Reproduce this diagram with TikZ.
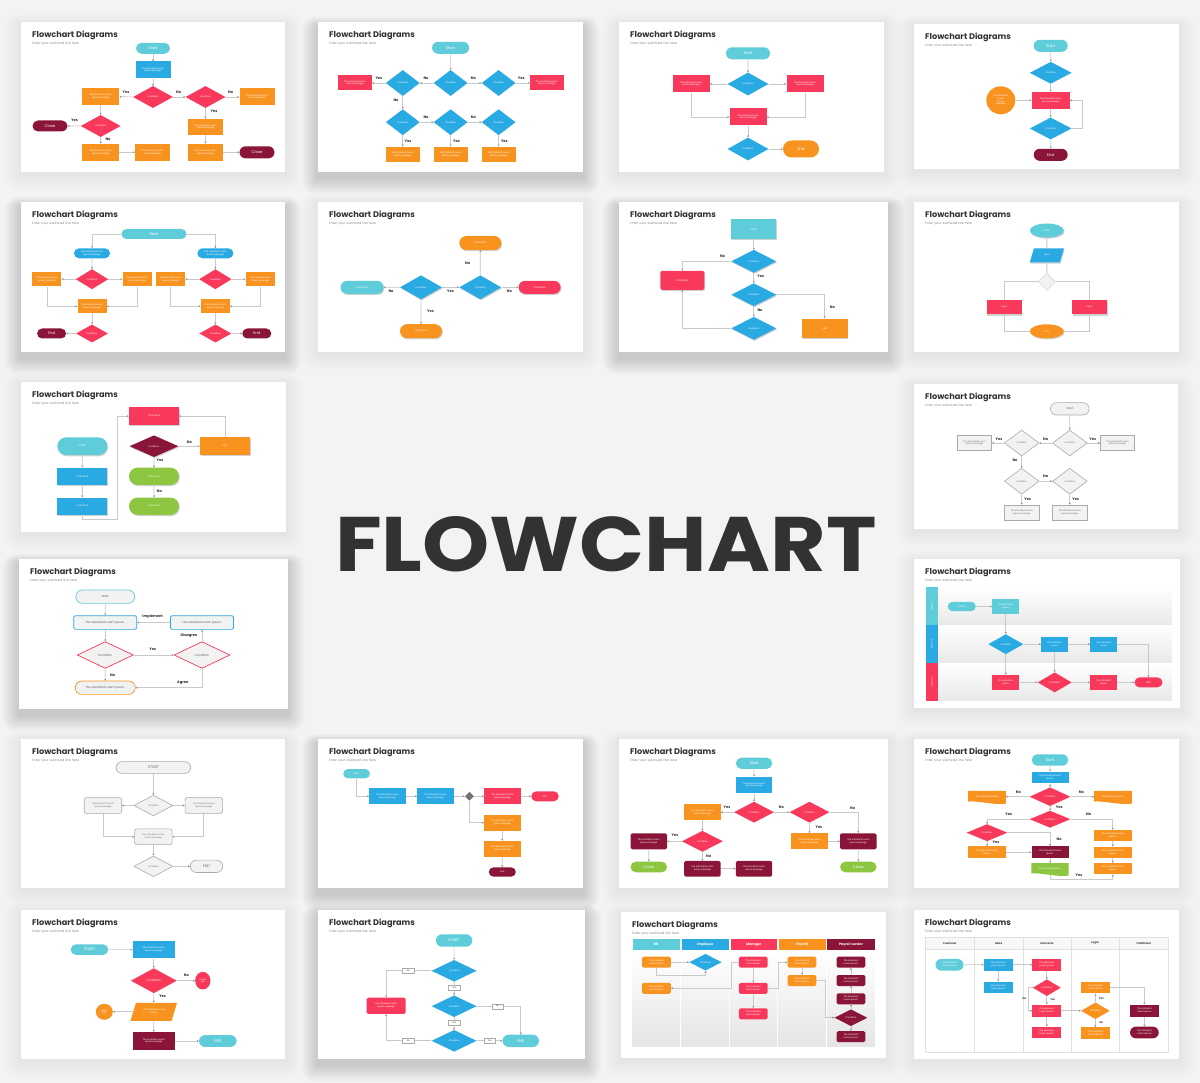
\documentclass[tikz,border=0pt]{standalone}
\usepackage{fontspec}
\setmainfont{Poppins}
\usetikzlibrary{shapes.geometric,shapes.misc,arrows.meta,calc,shadows}
\definecolor{bgc}{HTML}{F3F3F3}
\definecolor{cya}{HTML}{5FCDD9}
\definecolor{blu}{HTML}{2AAAE2}
\definecolor{rdd}{HTML}{F9395B}
\definecolor{ora}{HTML}{F8931F}
\definecolor{mar}{HTML}{8A1538}
\definecolor{grn}{HTML}{8DC641}
\definecolor{lineg}{HTML}{C9C9C9}
\definecolor{txt}{HTML}{333132}
\definecolor{outg}{HTML}{AAAAAA}
\definecolor{fillg}{HTML}{F2F2F2}
\newcommand\fnt{\fontsize{2.2}{2.7}\selectfont}
\newcommand\fst{\fontsize{3.8}{4.2}\selectfont}
\newcommand\fmd{\fontsize{2.9}{3.3}\selectfont}
\newcommand\LorP{The standard Lorem\\Ipsum passage}
\newcommand\LorQ{The standard\\Lorem Ipsum.}
\tikzset{
 ttl/.style={anchor=base west,inner sep=0pt,text=txt,font=\fontsize{8.2}{9}\selectfont\bfseries},
 subt/.style={anchor=base west,inner sep=0pt,text=black!45,font=\fontsize{3.3}{4}\selectfont},
 rect/.style={fill=#1,inner sep=0pt,text=white,font=\fnt,align=center},
 rbox/.style={rect=#1,rounded corners=1.5pt},
 pill/.style={rect=#1,shape=rounded rectangle},
 dia/.style={rect=#1,shape=diamond},
 ell/.style={rect=#1,shape=ellipse},
 wh/.style 2 args={minimum width=#1pt,minimum height=#2pt},
 ln/.style={draw=lineg,line width=0.7pt,-{Stealth[length=2pt,width=2pt,color=black!45]}},
 nl/.style={draw=lineg,line width=0.9pt},
 lbl/.style={font=\fontsize{3.6}{4}\selectfont\bfseries,text=txt,inner sep=0.3pt},
 oline/.style={draw=#1,fill=fillg,line width=0.7pt,inner sep=0pt,text=txt!80,font=\fmd,align=center},
 gbox/.style={draw=outg,fill=fillg,line width=0.6pt,inner sep=0pt,text=txt!70,font=\fnt,align=center},
 tag/.style={draw=outg,fill=white,font=\fnt,text=txt,inner sep=0pt,minimum width=11.5pt,minimum height=5pt,line width=0.4pt},
 hdr/.style={fill=#1,text=white,font=\fontsize{3.2}{3.5}\selectfont\bfseries,inner sep=0pt,minimum height=11pt},
 sh/.style={drop shadow={shadow xshift=0.8pt,shadow yshift=-1.2pt,opacity=0.18,fill=black}},
 txw/.style={inner sep=0pt,text=white,font=\fnt,align=center}
}
\newcommand\slidebox[5]{%
 \pgfmathsetmacro\shop{0.0035*#5}%
 \foreach \i in {1,...,14}{\fill[black,opacity=\shop,rounded corners=\i pt] ({#1-\i*1.2},{#2-\i*0.7+1.5*#5}) rectangle ({#3+\i*1.2},{#4+\i*1.2+2*#5});}%
 \fill[white] (#1,#2) rectangle (#3,#4);
 \node[ttl] at ({#1+11},{#2+15.5}) {Flowchart Diagrams};
 \node[subt] at ({#1+11},{#2+22.5}) {Enter your subhead line here};
}
\newcommand\docfill[2]{\fill[#2] (#1.north west) -- (#1.north east) -- ([yshift=-1pt]#1.south east) .. controls ([xshift=-10pt,yshift=-3pt]#1.south east) and ([xshift=10pt,yshift=2pt]#1.south west) .. ([yshift=1pt]#1.south west) -- cycle;}
\begin{document}
\begin{tikzpicture}[x=1pt,y=-1pt]
\useasboundingbox (0,0) rectangle (1200,1083);
\fill[bgc] (0,0) rectangle (1200,1083);

% ---------- slide 1
\slidebox{21}{22}{285}{172}{1}
\node[pill=cya,wh={34}{11},font=\fst] (a1) at (153,48.3) {Start};
\node[rect=blu,wh={35}{17}] (a2) at (153,70) {\LorP};
\node[dia=rdd,wh={40}{22}] (a3) at (153,97) {Condition};
\node[dia=rdd,wh={40}{22}] (a4) at (205.5,97) {Condition};
\node[rect=ora,wh={37}{17}] (a5) at (100.7,96.7) {\LorP};
\node[rect=ora,wh={35}{17}] (a6) at (257,97) {\LorP};
\node[dia=rdd,wh={40}{22}] (a7) at (100.7,126) {Condition};
\node[pill=mar,wh={35}{11},font=\fst] (a8) at (50,126) {Close};
\node[rect=ora,wh={35}{16}] (a9) at (205.5,127) {\LorP};
\node[rect=ora,wh={37}{17}] (a10) at (100.7,152.3) {\LorP};
\node[rect=ora,wh={35}{17}] (a11) at (152.5,152.3) {\LorP};
\node[rect=ora,wh={35}{17}] (a12) at (205.5,152.3) {\LorP};
\node[pill=mar,wh={35}{12},font=\fst] (a13) at (257,152.3) {Close};
\draw[ln] (a1)--(a2); \draw[ln] (a2)--(a3); \draw[ln] (a3)--(a5); \draw[ln] (a3)--(a4);
\draw[ln] (a4)--(a6); \draw[ln] (a5)--(a7); \draw[ln] (a7)--(a8); \draw[ln] (a7)--(a10);
\draw[ln] (a10)--(a11); \draw[ln] (a4)--(a9); \draw[ln] (a9)--(a12); \draw[ln] (a12)--(a13);
\node[lbl] at (126,92.3) {Yes}; \node[lbl] at (178.7,92) {No}; \node[lbl] at (230.7,92) {No};
\node[lbl] at (74.6,120) {Yes}; \node[lbl] at (214,111.7) {Yes}; \node[lbl] at (108,139.7) {No};

% ---------- slide 2
\slidebox{318}{22}{583}{172}{3}
\node[pill=cya,wh={37}{12},font=\fst] (b1) at (450.6,47.8) {Start};
\node[dia=blu,wh={34}{26}] (b2) at (402.8,83) {Condition};
\node[dia=blu,wh={34}{26}] (b3) at (450.6,83) {Condition};
\node[dia=blu,wh={34}{26}] (b4) at (498.6,83) {Condition};
\node[rect=rdd,wh={34}{15}] (b5) at (355,83) {\LorP};
\node[rect=rdd,wh={34}{15}] (b6) at (546.8,83) {\LorP};
\node[dia=blu,wh={34}{26}] (b7) at (402.8,122.2) {Condition};
\node[dia=blu,wh={34}{26}] (b8) at (450.6,122.2) {Condition};
\node[dia=blu,wh={34}{26}] (b9) at (498.6,122.2) {Condition};
\node[rect=ora,wh={34}{15}] (b10) at (402.8,154.2) {\LorP};
\node[rect=ora,wh={34}{15}] (b11) at (450.6,154.2) {\LorP};
\node[rect=ora,wh={34}{15}] (b12) at (498.6,154.2) {\LorP};
\draw[ln] (b1)--(b3); \draw[ln] (b3)--(b2); \draw[ln] (b3)--(b4); \draw[ln] (b2)--(b5);
\draw[ln] (b4)--(b6); \draw[ln] (b2)--(b7); \draw[ln] (b7)--(b8); \draw[ln] (b8)--(b9);
\draw[ln] (b7)--(b10); \draw[ln] (b8)--(b11); \draw[ln] (b9)--(b12);
\node[lbl] at (378.9,78.3) {Yes}; \node[lbl] at (426,78.3) {No}; \node[lbl] at (473.4,78.3) {No};
\node[lbl] at (521.3,78.3) {Yes}; \node[lbl] at (396,100.7) {No}; \node[lbl] at (426,117.7) {No};
\node[lbl] at (473.4,117.7) {No}; \node[lbl] at (408,141) {Yes}; \node[lbl] at (456.5,141) {Yes};
\node[lbl] at (504.4,141) {Yes};

% ---------- slide 3
\slidebox{619}{22}{884}{172}{1}
\node[pill=cya,wh={44}{12},font=\fst] (c1) at (748,53.3) {Start};
\node[dia=blu,wh={41}{23}] (c2) at (748,84) {Condition};
\node[rect=rdd,wh={37}{17}] (c3) at (691.2,84) {\LorP};
\node[rect=rdd,wh={37}{17}] (c4) at (805,84) {\LorP};
\node[rect=rdd,wh={37}{17}] (c5) at (748,117) {\LorP};
\node[dia=blu,wh={41}{23}] (c6) at (748,149) {Condition};
\node[pill=ora,wh={36}{17},font=\fst] (c7) at (801,149) {End};
\draw[ln] (c1)--(c2); \draw[ln] (c2)--(c3); \draw[ln] (c2)--(c4);
\draw[ln] (c3.south) |- (c5.west); \draw[ln] (c4.south) |- (c5.east);
\draw[ln] (c5)--(c6); \draw[ln] (c6)--(c7);

% ---------- slide 4
\slidebox{914}{24}{1179}{169}{1}
\node[pill=cya,wh={34}{12},font=\fst] (d1) at (1050.7,45.8) {Start};
\node[dia=blu,wh={42}{22}] (d2) at (1050.7,72.8) {Condition};
\node[rect=rdd,wh={38}{17}] (d3) at (1050.7,100.3) {\LorP};
\node[ell=ora,wh={29}{28}] (d4) at (1000.8,100.3) {The standard\\Lorem\\Ipsum\\passage};
\node[dia=blu,wh={42}{22}] (d5) at (1050.7,128.5) {Condition};
\node[pill=mar,wh={34}{12},font=\fst] (d6) at (1050.7,154.8) {End};
\draw[ln] (d1)--(d2); \draw[ln] (d2)--(d3); \draw[ln] (d4)--(d3); \draw[ln] (d3)--(d5);
\draw[ln] (d5.east) -- ++(10,0) |- (d3.east); \draw[ln] (d5)--(d6);

% ---------- slide 5
\slidebox{21}{202}{285}{352}{3}
\node[pill=cya,wh={65}{10},font=\fst] (e1) at (154,234) {Start};
\node[pill=blu,wh={36}{10}] (e2) at (92,253.3) {\LorP};
\node[pill=blu,wh={36}{10}] (e3) at (215.4,253.3) {\LorP};
\node[dia=rdd,wh={32.5}{20}] (e4) at (92,279.2) {Condition};
\node[dia=rdd,wh={32.5}{20}] (e5) at (215.4,279.2) {Condition};
\node[rect=ora,wh={29}{14.5}] (e6) at (46.9,279.2) {\LorP};
\node[rect=ora,wh={29}{14.5}] (e7) at (137,279.2) {\LorP};
\node[rect=ora,wh={29}{14.5}] (e8) at (170.7,279.2) {\LorP};
\node[rect=ora,wh={29}{14.5}] (e9) at (260.2,279.2) {\LorP};
\node[rect=ora,wh={29}{14}] (e10) at (92,306.3) {\LorP};
\node[rect=ora,wh={29}{14}] (e11) at (215.4,306.3) {\LorP};
\node[dia=rdd,wh={32}{18}] (e12) at (92,333.5) {Condition};
\node[dia=rdd,wh={32}{18}] (e13) at (215.4,333.5) {Condition};
\node[pill=mar,wh={29}{10},font=\fst] (e14) at (51.6,333.5) {End};
\node[pill=mar,wh={29}{10},font=\fst] (e15) at (256.8,333.5) {End};
\draw[ln] (e1.west) -| (e2.north); \draw[ln] (e1.east) -| (e3.north);
\draw[ln] (e2)--(e4); \draw[ln] (e3)--(e5);
\draw[ln] (e4)--(e6); \draw[ln] (e4)--(e7); \draw[ln] (e5)--(e8); \draw[ln] (e5)--(e9);
\draw[ln] (e6.south) |- (e10.west); \draw[ln] (e7.south) |- (e10.east);
\draw[ln] (e8.south) |- (e11.west); \draw[ln] (e9.south) |- (e11.east);
\draw[ln] (e10)--(e12); \draw[ln] (e11)--(e13); \draw[ln] (e12)--(e14); \draw[ln] (e13)--(e15);

% ---------- slide 6
\slidebox{318}{202}{583}{352}{1}
\node[pill=ora,sh,wh={42}{14}] (f1) at (480.3,243) {YOUR DATA};
\node[pill=cya,sh,wh={43}{13}] (f2) at (362,287.3) {YOUR DATA};
\node[dia=blu,sh,wh={42}{24}] (f3) at (421,287.3) {Condition};
\node[dia=blu,sh,wh={42}{24}] (f4) at (480.3,287.3) {Condition};
\node[pill=rdd,sh,wh={42}{13}] (f5) at (539.6,287.3) {YOUR DATA};
\node[pill=ora,sh,wh={42}{14}] (f6) at (421,331.2) {YOUR DATA};
\draw[ln] (f3)--(f2); \draw[ln] (f3)--(f4); \draw[ln] (f4)--(f5); \draw[ln] (f4)--(f1); \draw[ln] (f3)--(f6);
\node[lbl] at (391,291) {No}; \node[lbl] at (450.5,291.7) {Yes}; \node[lbl] at (509.4,291) {No};
\node[lbl] at (467.7,263.3) {No}; \node[lbl] at (430.5,311.7) {Yes};

% ---------- slide 7
\slidebox{619}{202}{888}{352}{3}
\node[rect=cya,sh,wh={45}{20}] (g1) at (753.8,229.3) {START};
\node[dia=blu,sh,wh={45}{23}] (g2) at (753.8,261.3) {Condition};
\node[rbox=rdd,sh,wh={44}{19}] (g3) at (682.3,280.3) {YOUR DATA};
\node[dia=blu,sh,wh={45}{23}] (g4) at (753.8,294.7) {Condition};
\node[dia=blu,sh,wh={45}{23}] (g5) at (753.8,328.3) {Condition};
\node[rect=ora,sh,wh={45.6}{19.3}] (g6) at (824.8,328.3) {END};
\draw[ln] (g1)--(g2); \draw[ln] (g2.west) -| (g3.north); \draw[ln] (g2)--(g4); \draw[ln] (g4)--(g5);
\draw[ln] (g4.east) -| (g6.north); \draw[ln] (g5.west) -| (g3.south);
\node[lbl] at (722.5,256) {No}; \node[lbl] at (760.7,276.7) {Yes}; \node[lbl] at (760,310.7) {No};
\node[lbl] at (832.3,307.3) {No};

% ---------- slide 8
\slidebox{914}{202}{1179}{352}{1}
\node[ell=cya,sh,wh={34}{14}] (h1) at (1046.8,230.5) {Start};
\node[rect=blu,sh,wh={30}{14},xslant=0.3] (h2) at (1046.8,255.5) {Input};
\node[shape=diamond,draw=black!20,fill=fillg,inner sep=0pt,wh={17}{17}] (h3) at (1046.8,281.7) {};
\node[rect=rdd,sh,wh={35}{14}] (h4) at (1004.1,307.5) {Input};
\node[rect=rdd,sh,wh={35}{14}] (h5) at (1089.3,307.5) {Input};
\node[ell=ora,sh,wh={34}{14}] (h6) at (1046.8,331.3) {End};
\draw[nl] (h1)--(h2); \draw[nl] (h2)--(h3);
\draw[nl] (h3.west) -| (h4.north); \draw[nl] (h3.east) -| (h5.north);
\draw[nl] (h4.south) |- (h6.west); \draw[nl] (h5.south) |- (h6.east);

% ---------- slide 9
\slidebox{21}{382}{286}{532}{1}
\node[pill=cya,sh,wh={50}{17.7}] (i1) at (82.3,446.2) {START};
\node[rect=blu,sh,wh={50}{17.3}] (i2) at (82.3,476.3) {YOUR DATA};
\node[rect=blu,sh,wh={50}{17.3}] (i3) at (82.3,506.2) {YOUR DATA};
\node[rect=rdd,sh,wh={50}{17.7}] (i4) at (154,416.2) {YOUR DATA};
\node[dia=mar,sh,wh={49}{21.7}] (i5) at (154,446.2) {Condition};
\node[rect=ora,sh,wh={50}{17.7}] (i6) at (225,446.2) {END};
\node[pill=grn,sh,wh={50}{17.3}] (i7) at (154,476.3) {YOUR DATA};
\node[pill=grn,sh,wh={50}{17.3}] (i8) at (154,506.2) {YOUR DATA};
\coordinate (i9) at (117.7,519.3);
\draw[ln] (i1)--(i2); \draw[ln] (i2)--(i3);
\draw[ln] (i3.south) |- (i9) |- (i4.west);
\draw[ln] (i6.north) |- (i4.east);
\draw[ln] (i5)--(i6); \draw[ln] (i5)--(i7); \draw[ln] (i7)--(i8);
\node[lbl] at (189.3,442.3) {No}; \node[lbl] at (160,460) {Yes}; \node[lbl] at (159.3,491) {No};

% ---------- slide 10
\slidebox{914}{384}{1178}{529}{1}
\node[gbox,shape=rounded rectangle,font=\fmd,wh={38.7}{12.3}] (j1) at (1069.8,408.8) {Start};
\node[gbox,shape=diamond,wh={34.7}{26}] (j2) at (1021.7,443) {Condition};
\node[gbox,shape=diamond,wh={34.7}{26}] (j3) at (1069.8,443) {Condition};
\node[gbox,wh={34.4}{15}] (j4) at (974.5,443) {\LorP};
\node[gbox,wh={34.4}{15}] (j5) at (1117.5,443) {\LorP};
\node[gbox,shape=diamond,wh={34.7}{26}] (j6) at (1021.7,481.2) {Condition};
\node[gbox,shape=diamond,wh={34.7}{26}] (j7) at (1069.8,481.2) {Condition};
\node[gbox,wh={34.7}{15.6}] (j8) at (1021.7,512.8) {\LorP};
\node[gbox,wh={34.7}{15.6}] (j9) at (1069.8,512.8) {\LorP};
\draw[ln] (j1)--(j3); \draw[ln] (j3)--(j2); \draw[ln] (j2)--(j4); \draw[ln] (j3)--(j5);
\draw[ln] (j2)--(j6); \draw[ln] (j6)--(j7); \draw[ln] (j6)--(j8); \draw[ln] (j7)--(j9);
\node[lbl] at (999,439) {Yes}; \node[lbl] at (1045.7,439) {No}; \node[lbl] at (1092.7,439) {Yes};
\node[lbl] at (1015,460.7) {No}; \node[lbl] at (1045.7,476.7) {No}; \node[lbl] at (1027.7,499.7) {Yes};
\node[lbl] at (1075.7,499.7) {Yes};

% ---------- slide 11
\slidebox{19}{559}{288}{709}{3}
\node[oline=cya,shape=rounded rectangle,wh={59}{13.3}] (k1) at (105.3,596.7) {Start};
\node[oline=blu,rounded corners=1.5pt,wh={63}{13.7}] (k2) at (105.3,622.5) {The standard Lorem Ipsum.};
\node[oline=blu,rounded corners=1.5pt,wh={63}{13.7}] (k3) at (202,622.5) {The standard Lorem Ipsum.};
\node[oline=rdd,shape=diamond,wh={56}{26.7}] (k4) at (105.3,655) {Condition};
\node[oline=rdd,shape=diamond,wh={56}{26.7}] (k5) at (202,655) {Condition};
\node[oline=ora,shape=rounded rectangle,wh={60}{13.3}] (k6) at (105.3,687.7) {The standard Lorem Ipsum.};
\draw[ln] (k1)--(k2); \draw[ln] (k2)--(k4); \draw[ln] (k4)--(k5); \draw[ln] (k5)--(k3);
\draw[ln] (k3)--(k2); \draw[ln] (k4)--(k6); \draw[ln] (k5.south) |- (k6.east);
\node[lbl] at (152.7,616.3) {Implement}; \node[lbl] at (189,636) {Disagree};
\node[lbl] at (152.7,649.3) {Yes}; \node[lbl] at (112.7,675) {No}; \node[lbl] at (182.7,682.3) {Agree};

% ---------- slide 12
\slidebox{914}{559}{1180}{708}{1}
\shade[top color=white,bottom color=black!9] (937.7,587.3) rectangle (1171.7,624.5);
\shade[top color=white,bottom color=black!9] (937.7,625.5) rectangle (1171.7,662.8);
\shade[top color=white,bottom color=black!9] (937.7,663.8) rectangle (1171.7,700.7);
\fill[cya] (925.7,587.3) rectangle (937.7,625);
\fill[blu] (925.7,625) rectangle (937.7,663.3);
\fill[rdd] (925.7,663.3) rectangle (937.7,700.7);
\node[rotate=90,txw] at (931.7,606.2) {DATA 01};
\node[rotate=90,txw] at (931.7,644.2) {DATA 02};
\node[rotate=90,txw] at (931.7,682) {DATA 03};
\node[pill=cya,wh={28}{9.4}] (l1) at (961.8,606.5) {START};
\node[rect=cya,wh={27}{15}] (l2) at (1005.8,606.5) {The standard\\Lorem.};
\node[dia=blu,wh={35}{20}] (l3) at (1005.8,644.2) {Condition};
\node[rect=blu,wh={27}{15}] (l4) at (1054.7,644.2) {The standard\\Lorem.};
\node[rect=blu,wh={27}{15}] (l5) at (1103.7,644.2) {The standard\\Lorem.};
\node[rect=rdd,wh={27}{15}] (l6) at (1005.8,682.4) {The standard\\Lorem.};
\node[dia=rdd,wh={34}{20}] (l7) at (1054.7,682.4) {Condition};
\node[rect=rdd,wh={27}{15}] (l8) at (1103.7,682.4) {The standard\\Lorem.};
\node[pill=rdd,wh={28}{10}] (l9) at (1148.5,682.4) {END};
\draw[ln] (l1)--(l2); \draw[ln] (l2)--(l3); \draw[ln] (l3)--(l4); \draw[ln] (l4)--(l5);
\draw[ln] (l5.east) -| (l9.north); \draw[ln] (l3)--(l6); \draw[ln] (l6)--(l7);
\draw[ln] (l4)--(l7); \draw[ln] (l7)--(l8); \draw[ln] (l8)--(l9);

% ---------- slide 13
\slidebox{21}{739}{285}{888}{1}
\node[gbox,shape=rounded rectangle,font=\fst,wh={74.6}{11.7}] (m1) at (153.4,767.5) {START};
\node[gbox,shape=diamond,wh={39}{20.7}] (m2) at (153.4,805.5) {Condition};
\node[gbox,rounded corners=2pt,wh={37.5}{15.7}] (m3) at (103,805.5) {\LorP};
\node[gbox,rounded corners=2pt,wh={37.5}{15.7}] (m4) at (203.8,805.5) {\LorP};
\node[gbox,rounded corners=2pt,wh={37.5}{15.7}] (m5) at (153.4,836.7) {\LorP};
\node[gbox,shape=diamond,wh={39}{20.7}] (m6) at (153.4,866.3) {Condition};
\node[gbox,shape=rounded rectangle,font=\fst,wh={32.5}{12.3}] (m7) at (206.5,866.3) {END};
\draw[ln] (m1)--(m2); \draw[ln] (m2)--(m3); \draw[ln] (m2)--(m4);
\draw[ln] (m3.south) |- (m5.west); \draw[ln] (m4.south) |- (m5.east);
\draw[ln] (m5)--(m6); \draw[ln] (m6)--(m7);

% ---------- slide 14
\slidebox{318}{739}{583}{888}{3}
\node[pill=cya,wh={26.7}{9.3}] (n1) at (356.6,773.7) {Start};
\node[rect=blu,wh={36.4}{16}] (n2) at (387.5,796.3) {\LorP};
\node[rect=blu,wh={36.4}{16}] (n3) at (435.3,796.3) {\LorP};
\node[shape=diamond,fill=black!55,inner sep=0pt,wh={9}{9}] (n4) at (469.4,796.3) {};
\node[rect=rdd,wh={36.4}{16}] (n5) at (502.3,796.3) {\LorP};
\node[pill=rdd,wh={27.5}{10}] (n6) at (545,796.3) {End};
\node[rect=ora,wh={36.4}{15.7}] (n7) at (502.3,822.8) {\LorP};
\node[rect=ora,wh={36.4}{15.7}] (n8) at (502.3,848.8) {\LorP};
\node[pill=mar,wh={27}{9.3}] (n9) at (502.3,872) {End};
\draw[ln] (n1.south) |- (n2.west); \draw[ln] (n2)--(n3); \draw[ln] (n3)--(n4); \draw[ln] (n4)--(n5);
\draw[ln] (n5)--(n6); \draw[ln] (n4.south) |- (n7.west); \draw[ln] (n7)--(n8); \draw[ln] (n8)--(n9);

% ---------- slide 15
\slidebox{619}{739}{888}{888}{1}
\node[pill=cya,wh={36.4}{11.3},font=\fst] (o1) at (754,763.3) {Start};
\node[rect=blu,wh={36.4}{16.7}] (o2) at (754,785) {\LorP};
\node[dia=rdd,wh={40}{21}] (o3) at (754,812.2) {Condition};
\node[dia=rdd,wh={40}{21}] (o4) at (809.5,812.2) {Condition};
\node[rect=ora,wh={36.4}{16}] (o5) at (702.4,812.2) {\LorP};
\node[dia=rdd,wh={41}{21}] (o6) at (702.4,841.3) {Condition};
\node[rect=ora,wh={36.4}{16}] (o7) at (809.5,841.3) {\LorP};
\node[rbox=mar,wh={36.4}{16}] (o8) at (648.8,841.3) {\LorP};
\node[rbox=mar,wh={36.4}{16}] (o9) at (858.3,841.3) {\LorP};
\node[pill=grn,wh={36.4}{10.7},font=\fst] (o10) at (648.8,867) {Close};
\node[rbox=mar,wh={36.4}{15.7}] (o11) at (702.4,868.8) {\LorP};
\node[rbox=mar,wh={36.4}{15.7}] (o12) at (754,868.8) {\LorP};
\node[pill=grn,wh={36.4}{10.7},font=\fst] (o13) at (858.3,867) {Close};
\draw[ln] (o1)--(o2); \draw[ln] (o2)--(o3); \draw[ln] (o3)--(o5); \draw[ln] (o3)--(o4);
\draw[ln] (o4.east) -| (o9.north); \draw[ln] (o4)--(o7); \draw[ln] (o7)--(o9); \draw[ln] (o9)--(o13);
\draw[ln] (o5)--(o6); \draw[ln] (o6)--(o8); \draw[ln] (o8)--(o10); \draw[ln] (o6)--(o11); \draw[ln] (o11)--(o12);
\node[lbl] at (727,807.7) {Yes}; \node[lbl] at (781.4,807.7) {No}; \node[lbl] at (852.6,808.7) {No};
\node[lbl] at (818.9,827.3) {Yes}; \node[lbl] at (675,835.3) {Yes}; \node[lbl] at (708.7,856) {No};

% ---------- slide 16
\slidebox{914}{739}{1179}{888}{1}
\node[pill=cya,wh={36}{11.4},font=\fst] (p1) at (1050,760) {Start};
\node[rect=blu,wh={37}{11.7}] (p2) at (1050,777.5) {The standard Lorem\\Ipsum.};
\node[dia=rdd,wh={41}{18.7}] (p3) at (1050,796.7) {Condition};
\node[inner sep=0pt,wh={37.5}{11.3}] (p4) at (987,796.7) {};
\node[inner sep=0pt,wh={37.5}{11.3}] (p5) at (1112.8,796.7) {};
\docfill{p4}{ora}\docfill{p5}{ora}
\node[txw] at (p4) {The standard Ipsum.};
\node[txw] at (p5) {The standard Ipsum.};
\node[dia=rdd,wh={41}{17}] (p6) at (1050,819.2) {Condition};
\node[dia=rdd,wh={41}{17}] (p7) at (987,832.7) {Condition};
\node[rect=ora,wh={38}{11}] (p8) at (1112.8,835.5) {The standard Lorem\\Ipsum.};
\node[rect=ora,wh={38}{11}] (p9) at (1112.8,852.2) {The standard Lorem\\Ipsum.};
\node[rect=ora,wh={38}{11}] (p10) at (1112.8,868.8) {The standard Lorem\\Ipsum.};
\node[rect=ora,wh={37.5}{11.7}] (p11) at (987,852.2) {The standard Lorem\\Ipsum.};
\node[rect=mar,wh={37}{12}] (p12) at (1050,852.2) {The standard Lorem\\Ipsum.};
\node[inner sep=0pt,wh={37}{11}] (p13) at (1050,868.8) {};
\docfill{p13}{grn}
\node[txw] at (p13) {The standard Ipsum.};
\coordinate (p14) at (1112.8,879);
\draw[ln] (p1)--(p2); \draw[ln] (p2)--(p3); \draw[ln] (p3)--(p4); \draw[ln] (p3)--(p5); \draw[ln] (p3)--(p6);
\draw[ln] (p6.west) -| (p7.north); \draw[ln] (p6.east) -| (p8.north); \draw[ln] (p8)--(p9); \draw[ln] (p9)--(p10);
\draw[ln] (p7.east) -| (p12.north); \draw[ln] (p7)--(p11); \draw[ln] (p11)--(p12); \draw[ln] (p12)--(p13);
\draw[ln] (p13.south) |- (p14) -- (p10.south);
\node[lbl] at (1018.3,792.7) {No}; \node[lbl] at (1081.4,792.7) {No}; \node[lbl] at (1059.3,807.7) {Yes};
\node[lbl] at (1008.7,814.3) {Yes}; \node[lbl] at (1088.7,814.3) {No}; \node[lbl] at (996,842.3) {Yes};
\node[lbl] at (1059.2,839) {No}; \node[lbl] at (1079,875) {Yes};

% ---------- slide 17
\slidebox{21}{910}{285}{1059}{1}
\node[pill=cya,wh={37.5}{10.7},font=\fst] (q1) at (89.5,949.6) {START};
\node[rect=blu,wh={42}{17.7}] (q2) at (153.8,949.6) {The standard Lorem\\Ipsum passage};
\node[dia=rdd,wh={46}{25},font=\fmd] (q3) at (153.8,980.7) {Condition};
\node[ell=rdd,wh={15.3}{17.6}] (q4) at (202.8,980.7) {Lorem\\text};
\node[rect=ora,wh={41}{18},xslant=0.3] (q5) at (153.8,1011.8) {The standard Lorem\\Ipsum.};
\node[ell=ora,wh={17}{16}] (q6) at (104.3,1011.8) {Lorem\\text};
\node[rect=mar,wh={42}{17.7}] (q7) at (153.8,1041) {The standard Lorem\\Ipsum passage};
\node[pill=cya,wh={37.5}{11.7},font=\fst] (q8) at (217.8,1041) {END};
\draw[ln] (q1)--(q2); \draw[ln] (q2)--(q3); \draw[ln] (q3)--(q4); \draw[ln] (q3)--(q5);
\draw[ln] (q5)--(q6); \draw[ln] (q5)--(q7); \draw[ln] (q7)--(q8);
\node[lbl] at (186.4,975) {No}; \node[lbl] at (162.6,996.3) {Yes};

% ---------- slide 18
\slidebox{318}{910}{585}{1059}{3}
\node[pill=cya,wh={36.4}{12.4},font=\fst] (r1) at (454.1,940.5) {START};
\node[dia=blu,wh={45}{21.7}] (r2) at (454.1,970.8) {Condition};
\node[dia=blu,wh={45}{21.7}] (r3) at (454.1,1006.2) {Condition};
\node[dia=blu,wh={45}{21.7}] (r4) at (454.1,1040.8) {Condition};
\node[rbox=rdd,wh={39}{16.3}] (r5) at (386.1,1005.8) {\LorP};
\node[pill=cya,wh={36.3}{12.4},font=\fst] (r6) at (520.8,1040.8) {END};
\draw[ln] (r1)--(r2); \draw[ln] (r2)--(r3); \draw[ln] (r3)--(r4);
\draw[ln] (r2.west) -| (r5.north); \draw[ln] (r4.west) -| (r5.south);
\draw[ln] (r3.east) -| (r6.north); \draw[ln] (r4)--(r6);
\node[tag] at (408.4,970.8) {No}; \node[tag] at (454.1,987.5) {Yes}; \node[tag] at (497.5,1006.2) {No};
\node[tag] at (454.1,1022.5) {Yes}; \node[tag] at (408.4,1040.8) {No}; \node[tag] at (489.8,1040.8) {Yes};

% ---------- slide 19
\slidebox{621}{912}{886}{1058}{1}
\foreach \xa/\xb in {632.5/679.6,681.5/729,730.5/777.2,778.7/825.8,827.3/874.8}{\shade[top color=white,bottom color=black!10] (\xa,950) rectangle (\xb,1046);}
\node[hdr=cya,minimum width=47.1pt] at (656.05,944.5) {HR};
\node[hdr=blu,minimum width=47.5pt] at (705.25,944.5) {Employee};
\node[hdr=rdd,minimum width=46.7pt] at (753.85,944.5) {Manager};
\node[hdr=ora,minimum width=47.1pt] at (802.25,944.5) {Payroll};
\node[hdr=mar,minimum width=47.5pt] at (851.05,944.5) {Payroll vendor};
\node[rbox=ora,wh={28.7}{11}] (s1) at (656.5,962.2) {\LorQ};
\node[rbox=ora,wh={28.7}{11}] (s2) at (656.5,988.3) {\LorQ};
\node[dia=blu,wh={32.5}{16.7}] (s3) at (705.5,962.2) {Condition};
\node[rbox=rdd,wh={28.7}{11}] (s4) at (753.3,962.2) {\LorQ};
\node[rbox=rdd,wh={28.7}{11}] (s5) at (753.3,988.3) {\LorQ};
\node[rbox=rdd,wh={28.7}{11}] (s6) at (753.3,1013.8) {\LorQ};
\node[rbox=ora,wh={28.7}{11}] (s7) at (801.9,962.2) {\LorQ};
\node[rbox=ora,wh={28.7}{11}] (s8) at (801.9,980.5) {\LorQ};
\node[rbox=mar,wh={28.7}{11}] (s9) at (850.9,962.2) {\LorQ};
\node[rbox=mar,wh={28.7}{11}] (s10) at (850.9,980.5) {\LorQ};
\node[rbox=mar,wh={28.7}{11}] (s11) at (850.9,998.8) {\LorQ};
\node[dia=mar,wh={33}{16.7}] (s12) at (850.9,1017.7) {Condition};
\node[rbox=mar,wh={28.7}{11}] (s13) at (850.9,1036.7) {\LorQ};
\coordinate (s14) at (705.5,975);
\draw[ln] (s1)--(s3); \draw[ln] (s1.south) |- (s14) -- (s3.south);
\draw[ln] (s4.west) -- ++(-7,0) |- (s2.east);
\draw[ln] (s4)--(s5); \draw[ln] (s5)--(s6);
\draw[ln] (s5.east) -- ++(10,0) |- (s7.west);
\draw[ln] (s7)--(s8); \draw[ln] (s8.east) -- ++(9,0) |- (s12.west);
\draw[ln] (s10)--(s9); \draw[ln] (s11)--(s10); \draw[ln] (s12)--(s11); \draw[ln] (s12)--(s13);

% ---------- slide 20
\slidebox{914}{910}{1179}{1059}{1}
\fill[black!3] (925.3,937.3) rectangle (1168.3,949);
\draw[black!12,line width=0.4pt] (925.3,937.3) rectangle (1168.3,1052.3);
\draw[black!12,line width=0.4pt] (925.3,949) -- (1168.3,949);
\foreach \xc in {974.3,1022.9,1070.7,1119.3}{\draw[black!12,line width=0.4pt] (\xc,937.3) -- (\xc,1052.3);}
\foreach \xc/\tx in {949.8/Customer,998.6/Sales,1046.8/Contracts,1095/Legal,1143.8/Fulfillment}{\node[font=\fontsize{2.6}{3}\selectfont\bfseries,text=txt,inner sep=0pt] at (\xc,943.2) {\tx};}
\node[pill=cya,wh={28}{11.7}] (t1) at (949.5,964.8) {\LorQ};
\node[rect=blu,wh={28.7}{11.7}] (t2) at (998.2,964.8) {\LorQ};
\node[rect=blu,wh={28.7}{11.7}] (t3) at (998.2,987.5) {\LorQ};
\node[rect=rdd,wh={28.7}{11.7}] (t4) at (1046.8,964.8) {\LorQ};
\node[dia=rdd,wh={28}{16.7}] (t5) at (1046.8,987.7) {Condition};
\node[rect=rdd,wh={28.7}{12.4}] (t6) at (1046.8,1010.8) {\LorQ};
\node[rect=rdd,wh={28.7}{11.7}] (t7) at (1046.8,1032.5) {\LorQ};
\node[rect=ora,wh={28.7}{11.7}] (t8) at (1095.4,987.5) {\LorQ};
\node[dia=ora,wh={28.7}{16.7}] (t9) at (1095.4,1010.8) {Condition};
\node[rect=ora,wh={28.7}{11.7}] (t10) at (1095.4,1033.2) {\LorQ};
\node[rect=mar,wh={28.7}{12.4}] (t11) at (1144.4,1010.8) {\LorQ};
\node[pill=mar,wh={28.7}{11.7}] (t12) at (1144.4,1032.5) {\LorQ};
\draw[ln] (t1)--(t2); \draw[ln] (t2)--(t3); \draw[ln] (t2)--(t4); \draw[ln] (t4)--(t5); \draw[ln] (t5)--(t6);
\draw[ln] (t5.west) -- ++(-4.6,0) |- (t6.west); \draw[ln] (t6)--(t7); \draw[ln] (t6)--(t9);
\draw[ln] (t9)--(t8); \draw[ln] (t9)--(t10); \draw[ln] (t8.east) -| (t11.north); \draw[ln] (t11)--(t12);
\node[lbl,font=\fontsize{2.6}{3}\selectfont\bfseries] at (1052.7,1000) {Yes};
\node[lbl,font=\fontsize{2.6}{3}\selectfont\bfseries] at (1024.5,999) {No};
\node[lbl,font=\fontsize{2.6}{3}\selectfont\bfseries] at (1101.3,999) {Yes};
\node[lbl,font=\fontsize{2.6}{3}\selectfont\bfseries] at (1101.3,1022.7) {No};

% ---------- title
\node[text=txt,inner sep=0pt,anchor=north west] (ttlmain) at (335,516) {\resizebox{541pt}{55pt}{\bfseries FLOWCHART}};
\end{tikzpicture}
\end{document}
